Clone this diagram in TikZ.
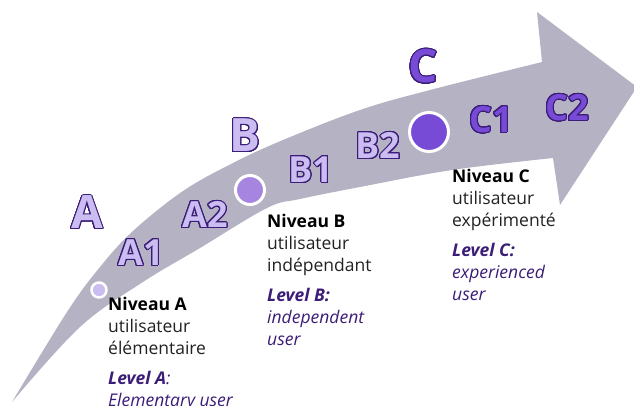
\documentclass[tikz,border=0pt]{standalone}
\usepackage{fontspec}
\setmainfont{Open Sans}
\usepackage{contour}
\contourlength{1pt}
\contournumber{24}
\definecolor{arrowgray}{HTML}{B5B3C3}
\definecolor{lavlight}{HTML}{CBBDF1}
\definecolor{lavmid}{HTML}{A585E0}
\definecolor{lavdark}{HTML}{774BD6}
\definecolor{inkpurple}{HTML}{3B1D78}
\definecolor{txtgray}{HTML}{222222}
\newcommand{\lvltag}[2]{\contour{inkpurple}{\textcolor{#1}{#2}}}
\newcommand{\engl}[1]{\textcolor{inkpurple}{\itshape #1}}

\begin{document}
\begin{tikzpicture}[x=1pt,y=-1pt,
	big/.style={inner sep=0pt,font=\bfseries\fontsize{46}{46}\selectfont},
	sub/.style={inner sep=0pt,font=\bfseries\fontsize{36}{36}\selectfont},
	dot/.style={circle,draw=white,line width=2.5pt,inner sep=0pt},
	desc/.style={anchor=base west,inner sep=0pt,text=txtgray,font=\fontsize{17.5}{22}\selectfont}]
			\useasboundingbox (0,0) rectangle (634,405);
			\fill[arrowgray] (12,402) -- plot[smooth,tension=0.6] coordinates {(12,402) (67,312) (100,267) (133,231) (183,191) (233,163) (283,140) (360,110) (430,90) (542,62)}
				-- (537,12) -- (637,87) -- (560,205) -- (553,158)
				-- plot[smooth,tension=0.6] coordinates {(553,158) (452,170) (360,187) (300,199) (267,208) (200,248) (143,282) (80,327) (12,402)} -- cycle;
			\node[big] (A) at (87,213) {\lvltag{lavlight}{A}};
			\node[sub] (A1) at (141,253) {\lvltag{lavlight}{A1}};
			\node[sub] (A2) at (205,215) {\lvltag{lavlight}{A2}};
			\node[big] (B) at (245,136) {\lvltag{lavlight}{B}};
			\node[sub] (B1) at (311,170) {\lvltag{lavlight}{B1}};
			\node[sub] (B2) at (378,146) {\lvltag{lavlight}{B2}};
			\node[big] (C) at (423,67) {\lvltag{lavdark}{C}};
			\node[sub] (C1) at (491,120) {\lvltag{lavdark}{C1}};
			\node[sub] (C2) at (567,108) {\lvltag{lavdark}{C2}};
			\node[dot,fill=lavlight,minimum size=15pt] (dotA) at (99,290) {};
			\node[dot,fill=lavmid,minimum size=29pt,line width=3pt] (dotB) at (250,190) {};
			\node[dot,fill=lavdark,minimum size=39pt,line width=3pt] (dotC) at (429,132) {};
			\node[desc] (nivA) at (108,310) {\begin{tabular}[t]{@{}l@{}}
				\textcolor{black}{\bfseries Niveau A}\\utilisateur\\élémentaire\\[8pt]
				\engl{\bfseries Level A}\engl{:}\\\engl{Elementary user}\end{tabular}};
			\node[desc] (nivB) at (267,227) {\begin{tabular}[t]{@{}l@{}}
				\textcolor{black}{\bfseries Niveau B}\\utilisateur\\indépendant\\[8pt]
				\engl{\bfseries Level B:}\\\engl{independent}\\\engl{user}\end{tabular}};
			\node[desc] (nivC) at (452,182) {\begin{tabular}[t]{@{}l@{}}
				\textcolor{black}{\bfseries Niveau C}\\utilisateur\\expérimenté\\[8pt]
				\engl{\bfseries Level C:}\\\engl{experienced}\\\engl{user}\end{tabular}};
		\end{tikzpicture}
\end{document}
